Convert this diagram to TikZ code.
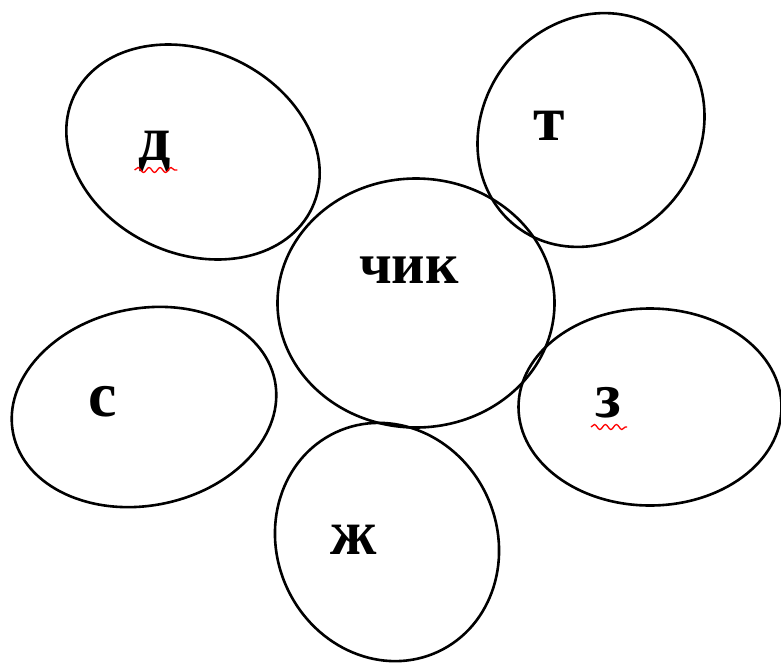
\documentclass[tikz,border=0pt]{standalone}
\usepackage{fontspec}
\setmainfont{Liberation Serif}
\usetikzlibrary{shapes.geometric,decorations.pathmorphing}
\tikzset{petal/.style={ellipse, draw, line width=2.6pt, inner sep=0pt},
  syl/.style={anchor=base, inner sep=0pt, font=\fontsize{64}{70}\selectfont\bfseries},
  typo/.style={red, line width=1.3pt, decorate, decoration={snake, amplitude=2.5pt, segment length=11pt}}}

\begin{document}
\begin{tikzpicture}[x=1pt,y=-1pt]
      \useasboundingbox (0,0) rectangle (781,662);
      % petals
      \node[petal, minimum width=263, minimum height=203, rotate=-25] (pd) at (193,152) {};
      \node[petal, minimum width=244, minimum height=216, rotate=52] (pt) at (591,130) {};
      \node[petal, minimum width=277, minimum height=249] (pc) at (416,303) {};
      \node[petal, minimum width=267, minimum height=197, rotate=11.5] (ps) at (144,407) {};
      \node[petal, minimum width=263, minimum height=197] (pz) at (650,407) {};
      \node[petal, minimum width=242, minimum height=220, rotate=115] (pzh) at (387,542) {};
      % letters
      \node[syl] (d) at (155,160) {д};
      \node[syl] (t) at (549,140) {т};
      \node[syl, font=\fontsize{58}{64}\selectfont\bfseries] (chik) at (409,283) {чик};
      \node[syl] (s) at (103,416) {с};
      \node[syl] (z) at (608,417) {з};
      \node[syl] (zh) at (354,554) {ж};
      \draw[typo] ([xshift=-4pt,yshift=-10pt]d.base west) -- ([xshift=6pt,yshift=-10pt]d.base east);
      \draw[typo] ([xshift=-4pt,yshift=-10pt]z.base west) -- ([xshift=6pt,yshift=-10pt]z.base east);
    \end{tikzpicture}
\end{document}
